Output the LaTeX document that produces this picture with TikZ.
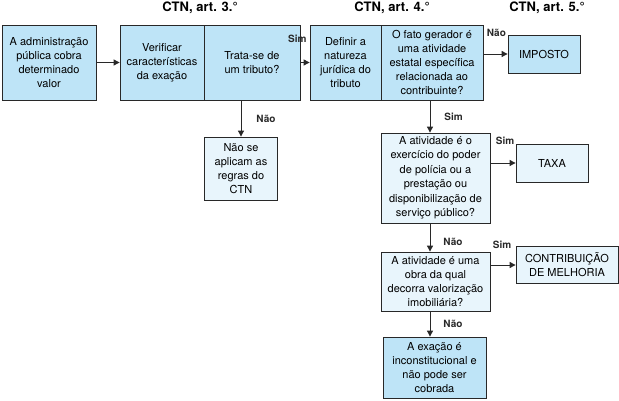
\documentclass[tikz,border=0pt]{standalone}
\usepackage{fontspec}
\setmainfont{TeX Gyre Heros}
\usetikzlibrary{arrows.meta,positioning}
\definecolor{mainblue}{RGB}{190,228,247}
\definecolor{paleblue}{RGB}{232,245,252}
\definecolor{myline}{RGB}{40,40,40}

\begin{document}
\begin{tikzpicture}[x=1pt, y=-1pt,
    stage/.style={draw=myline, line width=0.8pt, fill=mainblue, align=center,
        font=\fontsize{11}{14}\selectfont, inner sep=2pt, minimum height=75pt},
    answer/.style={stage, fill=paleblue},
    flow/.style={-{Triangle[length=6pt,width=6pt]}, line width=0.9pt, myline},
    lbl/.style={font=\fontsize{10}{12}\selectfont\bfseries, inner sep=1pt},
    law/.style={font=\fontsize{13}{15}\selectfont\bfseries}
]
\useasboundingbox (0,0) rectangle (619,401);

% titles
\node[law] (art3) at (200,8) {CTN, art. 3.°};
\node[law] (art4) at (392,8) {CTN, art. 4.°};
\node[law] (art5) at (547,8) {CTN, art. 5.°};

% first row
\node[stage, minimum width=94pt] (admin) at (49,62.5)
    {A administração\\pública cobra\\determinado\\valor};
\node[stage, minimum width=84pt] (verif) at (162,62.5)
    {Verificar\\características\\da exação};
\node[stage, minimum width=96pt] (trata) at (252,62.5)
    {Trata-se de\\um tributo?};
\node[stage, minimum width=71pt] (natureza) at (345.5,62.5)
    {Definir a\\natureza\\jurídica do\\tributo};
\node[stage, minimum width=102pt] (fato) at (432,62.5)
    {O fato gerador é\\uma atividade\\estatal específica\\relacionada ao\\contribuinte?};
\node[stage, minimum width=72pt, minimum height=38pt] (imposto) at (544,54) {IMPOSTO};

% lower part
\node[answer, minimum width=73pt, minimum height=63pt] (naoaplica) at (241,168.5)
    {Não se\\aplicam as\\regras do\\CTN};
\node[answer, minimum width=109pt, minimum height=90pt,
    font=\fontsize{11}{14.5}\selectfont] (poder) at (435.5,178)
    {A atividade é o\\exercício do poder\\de polícia ou a\\prestação ou\\disponibilização de\\serviço público?};
\node[answer, minimum width=72pt, minimum height=38pt] (taxa) at (552,163) {TAXA};
\node[answer, minimum width=109pt, minimum height=59pt] (obra) at (435.5,281.5)
    {A atividade é uma\\obra da qual\\decorra valorização\\imobiliária?};
\node[answer, minimum width=102pt, minimum height=37pt] (melhoria) at (567,265)
    {CONTRIBUIÇÃO\\DE MELHORIA};
\node[stage, minimum width=103pt, minimum height=61pt] (inconst) at (434.5,367.5)
    {A exação é\\inconstitucional e\\não pode ser\\cobrada};

\coordinate (spine) at (430,0);

% arrows
\draw[flow] (admin) -- (verif);
\draw[flow] (trata) -- node[lbl, at start, anchor=south, xshift=-3pt, yshift=18pt] {Sim} (natureza);
\draw[flow] (fato.east |- imposto.west) -- node[lbl, at start, anchor=south west, xshift=2pt, yshift=16pt] {Não} (imposto.west);
\draw[flow] (naoaplica.north |- trata.south) -- node[lbl, midway, anchor=west, xshift=14pt] {Não} (naoaplica.north);
\draw[flow] (spine |- fato.south) -- node[lbl, midway, anchor=west, xshift=13pt] {Sim} (spine |- poder.north);
\draw[flow] (poder.east |- taxa.west) -- node[lbl, at start, anchor=south west, xshift=4pt, yshift=17pt] {Sim} (taxa.west);
\draw[flow] (spine |- poder.south) -- node[lbl, midway, anchor=west, xshift=12pt, yshift=-4pt] {Não} (spine |- obra.north);
\draw[flow] (obra.east |- melhoria.west) -- node[lbl, at start, anchor=south west, xshift=1pt, yshift=15pt] {Sim} (melhoria.west);
\draw[flow] (spine |- obra.south) -- node[lbl, midway, anchor=west, xshift=12pt] {Não} (spine |- inconst.north);
\end{tikzpicture}
\end{document}
